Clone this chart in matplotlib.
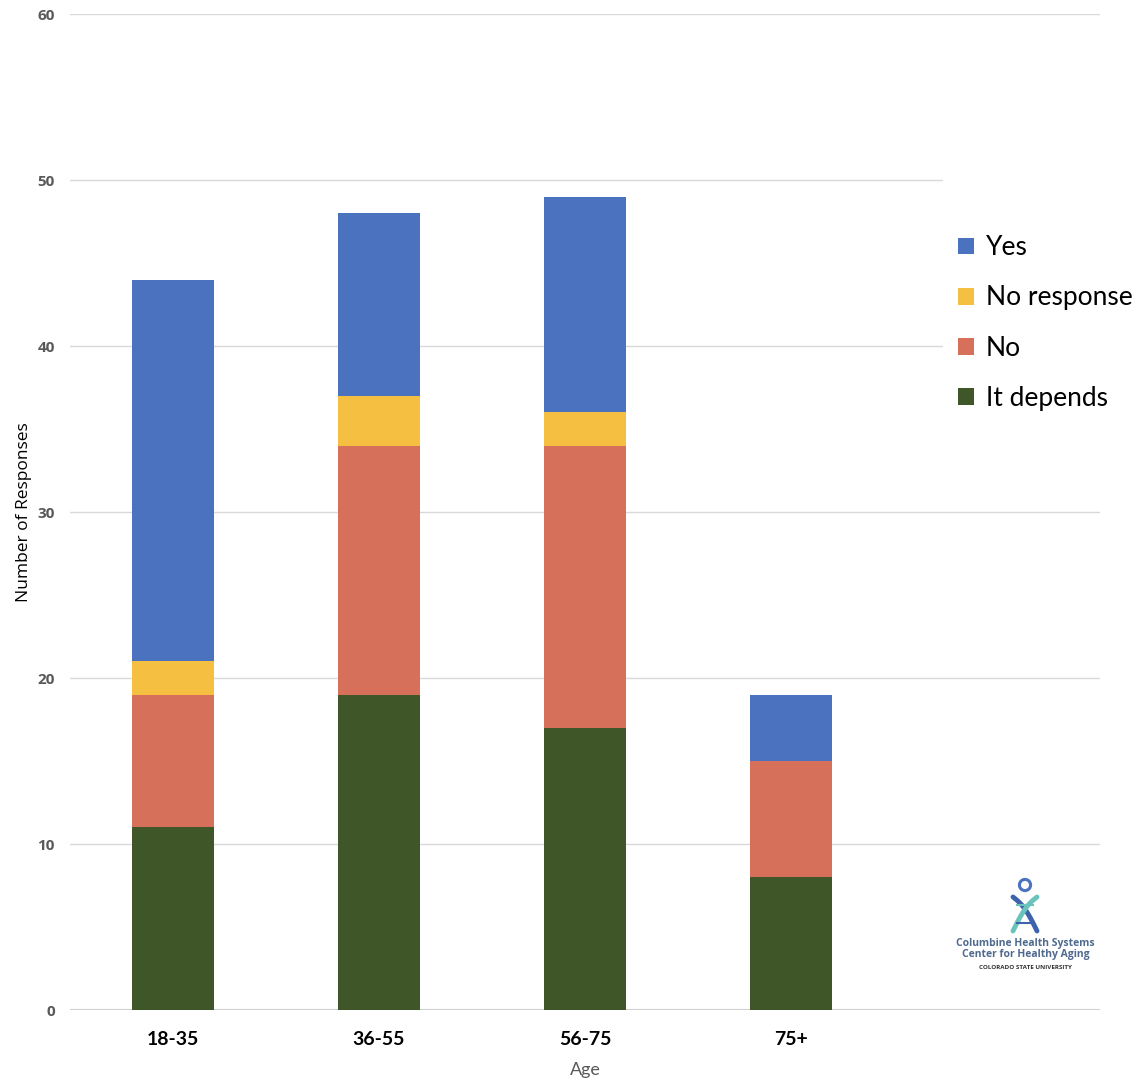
#!/usr/bin/env python3
"""
Stacked bar chart of responses by age group.
"""

import matplotlib.pyplot as plt
from matplotlib.patches import Rectangle, Circle
import numpy as np

# data
age_groups = ["18-35", "36-55", "56-75", "75+"]
it_depends = [11, 19, 17, 8]
no = [8, 15, 17, 7]
no_response = [2, 3, 2, 0]
yes = [23, 11, 13, 4]

series = [
    ("It depends", it_depends, "#3F5629"),
    ("No", no, "#D6705B"),
    ("No response", no_response, "#F5BF42"),
    ("Yes", yes, "#4A72BE"),
]

fig = plt.figure(figsize=(11.38, 10.8), dpi=100)
ax = fig.add_axes([0.0615, 0.0648, 0.905, 0.9222])

x = np.arange(len(age_groups))
bottom = np.zeros(len(age_groups))
handles = {}
for name, vals, color in series:
    vals = np.array(vals, dtype=float)
    bars = ax.bar(x, vals, width=0.4, bottom=bottom, color=color, zorder=3)
    handles[name] = bars
    bottom += vals

ax.set_xlim(-0.5, 4.5)
ax.set_ylim(0, 60)
ax.set_yticks(range(0, 61, 10))
ax.set_xticks(x)
ax.set_xticklabels(age_groups, fontsize=14, fontweight="bold", family="Lato")
ax.tick_params(axis="x", length=0, pad=15)
ax.tick_params(axis="y", length=0, pad=11, labelsize=11, labelcolor="#595959")
for lbl in ax.get_yticklabels():
    lbl.set_fontweight("bold")
    lbl.set_family("Open Sans")

ax.grid(axis="y", color="#D9D9D9", linewidth=1, zorder=0)
ax.axhline(0, color="#D0D0D0", linewidth=1.5, zorder=1)
for s in ax.spines.values():
    s.set_visible(False)

ax.set_xlabel("Age", fontsize=13, color="#595959", family="Lato", labelpad=10)
ax.set_ylabel("Number of Responses", fontsize=12.5, family="Open Sans", labelpad=4)

# white box behind the legend (hides the gridlines there)
fig.patches.append(Rectangle((943 / 1138, 1 - 500 / 1080), 195 / 1138, 330 / 1080,
                             transform=fig.transFigure, facecolor="white",
                             edgecolor="none", zorder=1))

order = ["Yes", "No response", "No", "It depends"]
leg = fig.legend([handles[n] for n in order], order,
                 loc="center left", bbox_to_anchor=(958 / 1138, 1 - 323 / 1080),
                 prop={"family": "Lato", "size": 19},
                 handlelength=0.6, handleheight=0.6, handletextpad=0.45,
                 labelspacing=0.95, borderpad=0, borderaxespad=0,
                 frameon=False)

# logo
logo_color = "#4F6A8F"
icon = fig.add_axes([1005 / 1138, 1 - 935 / 1080, 40 / 1138, 58 / 1080])
icon.set_xlim(0, 1)
icon.set_ylim(0, 1.45)
icon.set_aspect("equal")
icon.axis("off")
icon.add_patch(Circle((0.5, 1.25), 0.14, facecolor="none", edgecolor="#4A72BE", lw=2.2))
t = np.linspace(0, 1, 50)
icon.plot(0.2 + 0.6 * t, 0.95 - 0.85 * t + 0.12 * np.sin(np.pi * t), color="#3D63AD", lw=3.5,
          solid_capstyle="round")
icon.plot(0.8 - 0.6 * t, 0.95 - 0.85 * t + 0.12 * np.sin(np.pi * t), color="#6CC3BC", lw=3.5,
          solid_capstyle="round")
icon.plot([0.3, 0.7], [0.75, 0.75], color="#6CC3BC", lw=1.5)
icon.plot([0.3, 0.7], [0.3, 0.3], color="#3D63AD", lw=1.5)

fig.text(0.901, 0.121, "Columbine Health Systems\nCenter for Healthy Aging",
         ha="center", va="center", fontsize=7.5, color=logo_color,
         fontweight="bold", family="Open Sans", linespacing=1.0)
fig.text(0.901, 0.104, "COLORADO STATE UNIVERSITY", ha="center", va="center",
         fontsize=4.5, color="#333333", fontweight="bold", family="Open Sans")

fig.savefig("out.png", dpi=100)
